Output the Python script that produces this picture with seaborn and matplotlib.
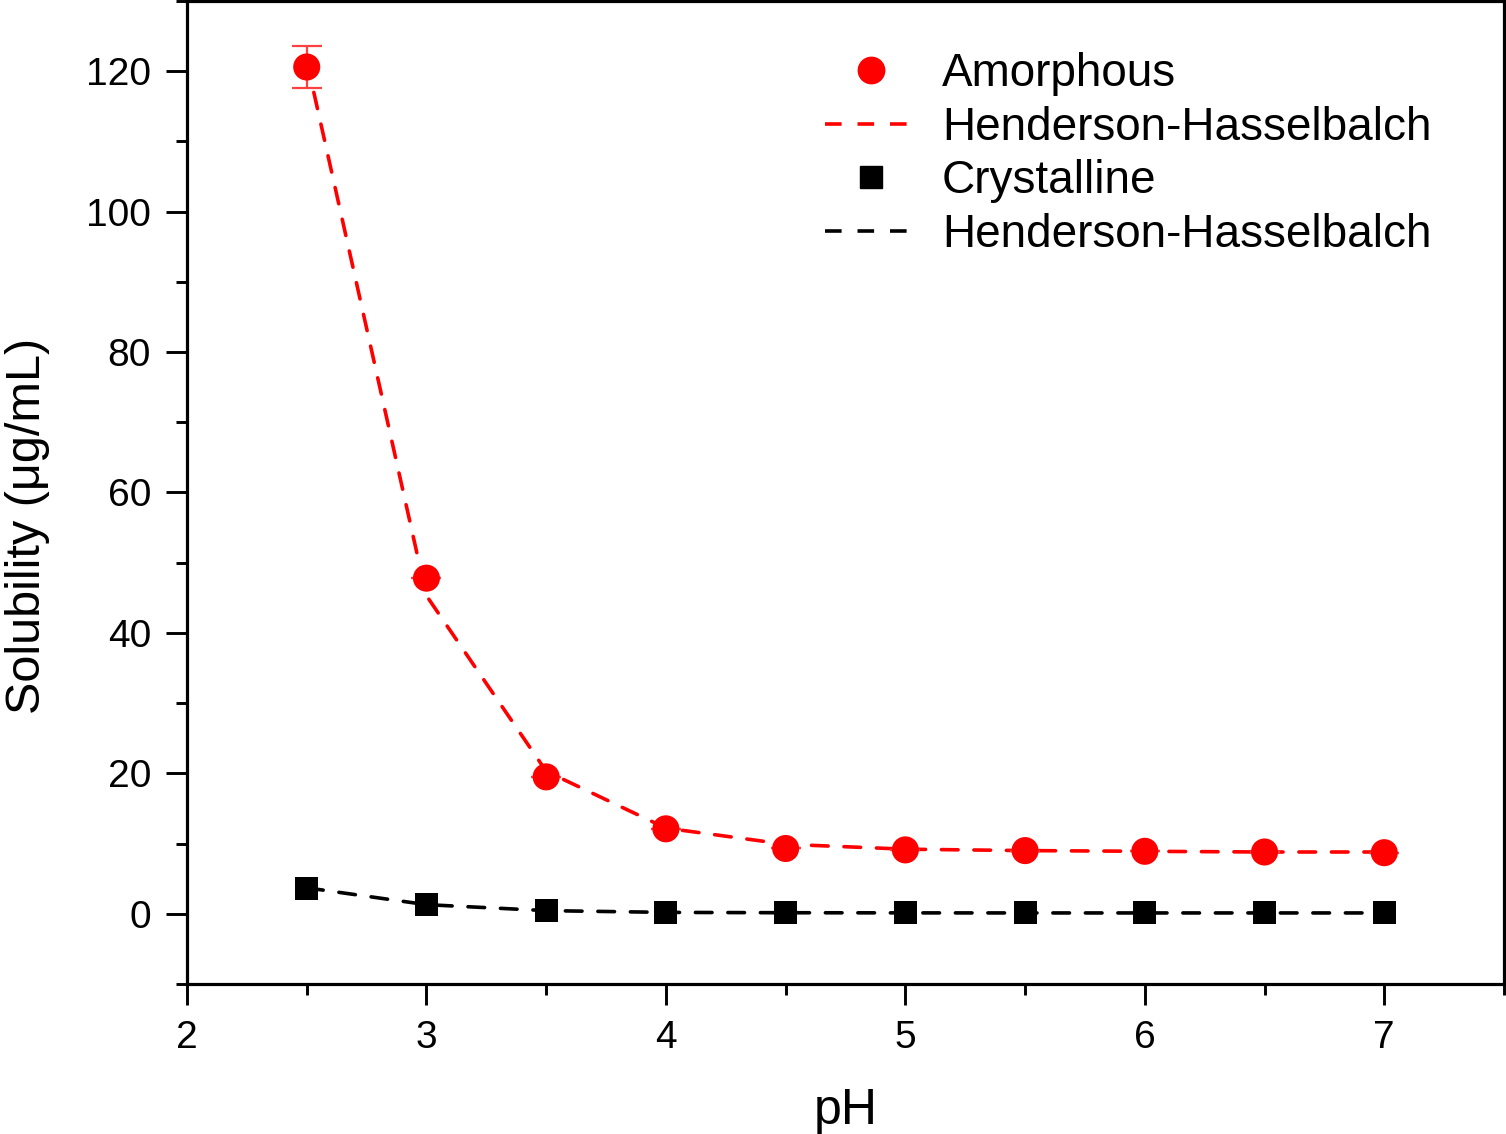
import matplotlib
matplotlib.use("Agg")
import matplotlib.pyplot as plt
from matplotlib.lines import Line2D
import seaborn as sns
import pandas as pd

# ---- data ----
ph = [2.5, 3.0, 3.5, 4.0, 4.5, 5.0, 5.5, 6.0, 6.5, 7.0]
amorphous = [120.6, 47.8, 19.5, 12.1, 9.3, 9.1, 9.0, 8.9, 8.8, 8.7]
amorphous_err = [3.0, 0, 0, 0, 0, 0, 0, 0, 0, 0]
crystalline = [3.6, 1.3, 0.45, 0.2, 0.13, 0.12, 0.12, 0.12, 0.12, 0.12]

fit_ph = [2.5, 3.0, 3.5, 4.0, 4.5, 5.0, 5.5, 6.0, 6.5, 7.0]
fit_amorphous = [121.5, 45.3, 20.3, 12.2, 9.9, 9.2, 9.0, 8.9, 8.8, 8.8]
fit_crystalline = [3.7, 1.3, 0.45, 0.2, 0.15, 0.13, 0.12, 0.12, 0.12, 0.12]

legend_labels = ["Amorphous", "Henderson-Hasselbalch", "Crystalline", "Henderson-Hasselbalch"]

sns.set_theme(style="ticks")
plt.rcParams["font.family"] = ["Liberation Sans", "DejaVu Sans"]
plt.rcParams["text.color"] = "black"
plt.rcParams["axes.labelcolor"] = "black"
plt.rcParams["xtick.color"] = "black"
plt.rcParams["ytick.color"] = "black"

W, H = 1506, 1134
fig = plt.figure(figsize=(W / 100, H / 100), dpi=100)
ax = fig.add_axes([187 / W, 150 / H, (1504 - 187) / W, (1133 - 150) / H])

df_pts = pd.DataFrame({"pH": ph, "Amorphous": amorphous, "Crystalline": crystalline})
df_fit = pd.DataFrame({"pH": fit_ph, "A": fit_amorphous, "C": fit_crystalline})

DASH = (4.6, 4.4)
LW = 2.6
sns.lineplot(data=df_fit, x="pH", y="A", ax=ax, color="#ff0000", lw=LW,
             dashes=False, zorder=2)
sns.lineplot(data=df_fit, x="pH", y="C", ax=ax, color="black", lw=LW,
             dashes=False, zorder=2)
for ln in ax.lines:
    ln.set_dashes(DASH)
    ln.set_dash_capstyle("round")

ax.errorbar(ph, amorphous, yerr=amorphous_err, fmt="none", ecolor="#ff4040",
            elinewidth=1.6, capsize=10.5, capthick=1.6, zorder=3)
sns.scatterplot(data=df_pts, x="pH", y="Amorphous", ax=ax, color="#ff0000",
                marker="o", s=380, edgecolor="none", zorder=4)
sns.scatterplot(data=df_pts, x="pH", y="Crystalline", ax=ax, color="black",
                marker="s", s=275, edgecolor="none", zorder=4)

ax.set_xlim(2, 7.5)
ax.set_ylim(-10, 130)
ax.set_xticks([2, 3, 4, 5, 6, 7])
ax.set_xticks([2.5, 3.5, 4.5, 5.5, 6.5, 7.5], minor=True)
ax.set_yticks([0, 20, 40, 60, 80, 100, 120])
ax.set_yticks([-10, 10, 30, 50, 70, 90, 110, 130], minor=True)

for s in ax.spines.values():
    s.set_visible(True)
    s.set_linewidth(2.3)
    s.set_color("black")

ax.tick_params(which="major", direction="out", length=15, width=2.1,
               labelsize=28, pad=11, colors="black")
ax.tick_params(which="minor", direction="out", length=8, width=2.1, colors="black")

ax.set_xlabel("pH", fontsize=36, labelpad=23)
ax.set_ylabel("Solubility (μg/mL)", fontsize=35)
ax.yaxis.set_label_coords(-0.104, 0.466)

handles = [
    Line2D([], [], color="#ff0000", marker="o", markersize=19, linestyle="none"),
    Line2D([], [], color="#ff0000", lw=LW, dashes=DASH),
    Line2D([], [], color="black", marker="s", markersize=16.5, linestyle="none"),
    Line2D([], [], color="black", lw=LW, dashes=DASH),
]
fig.legend(handles, legend_labels, loc="upper left",
           bbox_to_anchor=(825 / W, 1 - 52 / H), frameon=False,
           fontsize=33, handlelength=2.0, handletextpad=0.55,
           labelspacing=0.21, borderpad=0, borderaxespad=0)

fig.savefig("out.png", dpi=100)
